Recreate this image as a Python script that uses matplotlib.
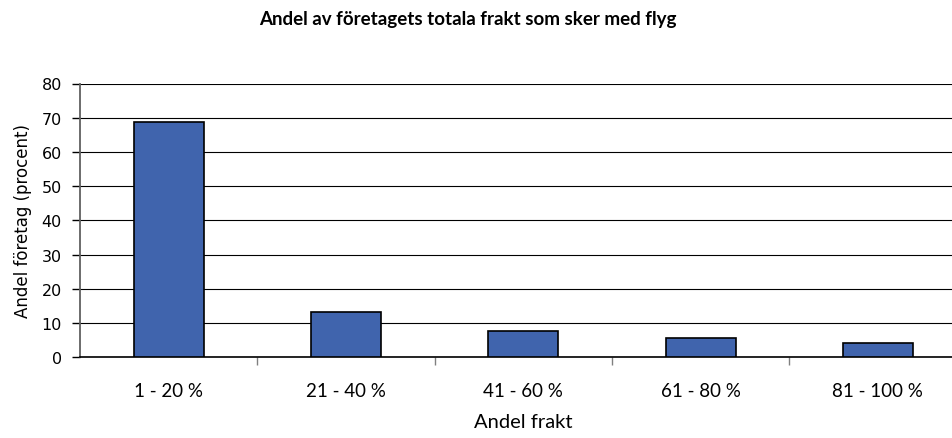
import numpy as np
import matplotlib
matplotlib.use('Agg')
import matplotlib.pyplot as plt

plt.rcParams['font.family'] = ['Lato', 'DejaVu Sans']

# Donnees
categories = ['1 - 20 %', '21 - 40 %', '41 - 60 %', '61 - 80 %', '81 - 100 %']
values = [68.8, 13.3, 7.7, 5.5, 4.2]
yticks = [0, 10, 20, 30, 40, 50, 60, 70, 80]

W, H = 953, 439
fig = plt.figure(figsize=(W / 100, H / 100), dpi=100)
left, right, top, bottom = 80, 966.5, 84.5, 358.3
ax = fig.add_axes([left / W, (H - bottom) / H, (right - left) / W, (bottom - top) / H])

x = np.arange(len(categories))
ax.bar(x, values, width=0.395, color='#4064AD', edgecolor='black', linewidth=1.2, zorder=3)

ax.set_xlim(-0.5, len(categories) - 0.5)
ax.set_ylim(0, 80)
ax.set_yticks(yticks)
ax.yaxis.grid(True, color='black', linewidth=0.8, zorder=0)
ax.set_axisbelow(True)

ax.set_xticks(x)
ax.set_xticklabels(categories, fontsize=13.5)
ax.set_xticks(np.arange(len(categories)) + 0.5, minor=True)
ax.tick_params(axis='x', which='major', length=0, pad=18)
ax.tick_params(axis='x', which='minor', length=6, color='#808080', width=1)
ax.tick_params(axis='y', length=6, width=1, pad=7, color='black')

for lbl in ax.get_yticklabels():
    lbl.set_family(['DejaVu Sans'])
    lbl.set_fontsize(11.5)

for s in ['top', 'right']:
    ax.spines[s].set_visible(False)
ax.spines['left'].set_color('#606060')
ax.spines['left'].set_linewidth(1.3)
ax.spines['bottom'].set_color('black')
ax.spines['bottom'].set_linewidth(1.2)

ax.set_xlabel('Andel frakt', fontsize=14.5, labelpad=10)
ax.set_ylabel('Andel företag (procent)', fontsize=12, family=['DejaVu Sans'], labelpad=7)

fig.text(468 / W, 1 - 20 / H, 'Andel av företagets totala frakt som sker med flyg',
         ha='center', va='center', fontsize=13.5, fontweight='bold')

fig.savefig('out.png', dpi=100)
